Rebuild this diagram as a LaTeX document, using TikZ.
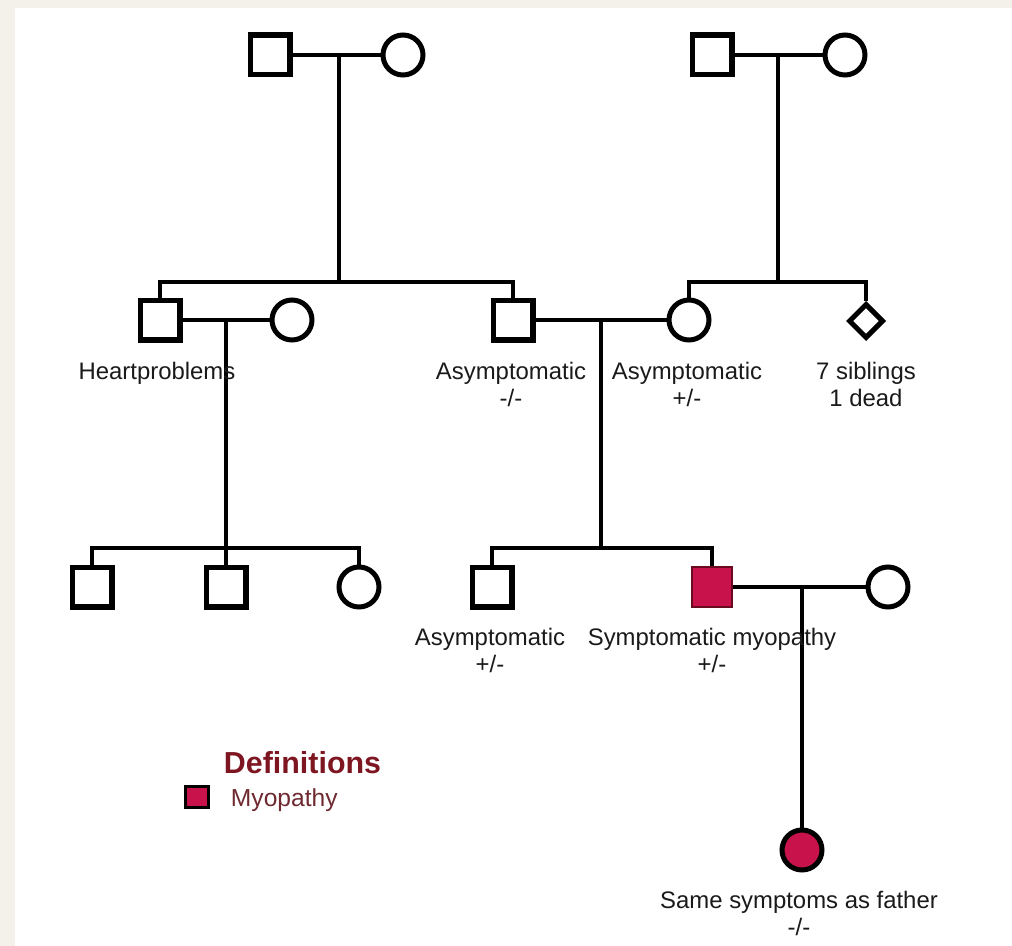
\documentclass[tikz,border=0pt]{standalone}
\usepackage{fontspec}
\setmainfont{Liberation Sans}
\usetikzlibrary{shapes.geometric}
\definecolor{beige}{HTML}{F4F1EA}
\definecolor{affected}{HTML}{C8124B}
\definecolor{affborder}{HTML}{6A0A20}
\definecolor{defred}{HTML}{7E1622}
\definecolor{myored}{HTML}{6E2A30}
\definecolor{ink}{HTML}{1A1A1A}
\begin{document}
\begin{tikzpicture}[x=0.02cm,y=-0.02cm,
  line width=2.27pt,
  male/.style={draw, rectangle, line width=2.85pt, minimum size=0.8cm, inner sep=0pt, fill=white},
  female/.style={draw, circle, line width=2.85pt, minimum size=0.8cm, inner sep=0pt, fill=white},
  unknownsex/.style={draw, diamond, aspect=1, line width=2.85pt, minimum size=0.7cm, inner sep=0pt, fill=white},
  affmale/.style={rectangle, draw=affborder, line width=0.7pt, fill=affected, minimum size=0.8cm, inner sep=0pt},
  afffemale/.style={female, fill=affected},
  lbl/.style={anchor=base, inner sep=0pt, text=ink, font=\fontsize{13.6}{15}\selectfont},
  conn/.style={line width=2.27pt}
]
\useasboundingbox (0,0) rectangle (1012,946);
\fill[beige] (0,0) rectangle (1012,946);
\fill[white] (15,8) rectangle (1012,946);

% junctions
\coordinate (m1) at (339,55);  \coordinate (s1) at (339,282);
\coordinate (m2) at (778,55);  \coordinate (s2) at (778,282);
\coordinate (m3) at (226,320); \coordinate (s3) at (226,548);
\coordinate (m4) at (601,320); \coordinate (s4) at (601,548);
\coordinate (m5) at (802,587);

% generation I
\node[male]   (A1) at (270,55) {};
\node[female] (A2) at (403,55) {};
\node[male]   (A3) at (712,55) {};
\node[female] (A4) at (845,55) {};

% generation II
\node[male]       (B1) at (160,320) {};
\node[female]     (B2) at (292,320) {};
\node[male]       (B3) at (513,320) {};
\node[female]     (B4) at (689,320) {};
\node[unknownsex] (B5) at (866,321) {};

% generation III
\node[male]    (C1) at (92,587) {};
\node[male]    (C2) at (226,587) {};
\node[female]  (C3) at (359,587) {};
\node[male]    (C4) at (492,587) {};
\node[affmale] (C5) at (712,587) {};
\node[female]  (C6) at (888,587) {};

% generation IV
\node[afffemale] (D1) at (802,850) {};

% connectors
\draw[conn] (A1.east) -- (A2.west);
\draw[conn] (m1) -- (s1);
\draw[conn] (B1.north) |- (s1) -| (B3.north);

\draw[conn] (A3.east) -- (A4.west);
\draw[conn] (m2) -- (s2);
\draw[conn] (B4.north) |- (s2) -| (B5.north);

\draw[conn] (B1.east) -- (B2.west);
\draw[conn] (m3) -- (s3);
\draw[conn] (C1.north) |- (s3) -| (C3.north);
\draw[conn] (s3) -- (C2.north);

\draw[conn] (B3.east) -- (B4.west);
\draw[conn] (m4) -- (s4);
\draw[conn] (C4.north) |- (s4) -| (C5.north);

\draw[conn] (C5.east) -- (C6.west);
\draw[conn] (m5) -- (D1.north);

% labels
\node[lbl] (LB1)  at (157,379) {Heartproblems};
\node[lbl] (LB3a) at (511,379) {Asymptomatic};
\node[lbl] (LB3b) at (511,406) {-/-};
\node[lbl] (LB4a) at (687,379) {Asymptomatic};
\node[lbl] (LB4b) at (687,406) {+/-};
\node[lbl] (LB5a) at (866,379) {7 siblings};
\node[lbl] (LB5b) at (866,406) {1 dead};
\node[lbl] (LC4a) at (490,645) {Asymptomatic};
\node[lbl] (LC4b) at (490,672) {+/-};
\node[lbl] (LC5a) at (712,645) {Symptomatic myopathy};
\node[lbl] (LC5b) at (712,672) {+/-};
\node[lbl] (LD1a) at (799,908) {Same symptoms as father};
\node[lbl] (LD1b) at (799,935) {-/-};

% legend
\node[anchor=base west, inner sep=0pt, text=defred, font=\fontsize{17.3}{19}\selectfont\bfseries] (defs) at (222,773) {Definitions};
\node[rectangle, draw=black, line width=1.9pt, fill=affected, minimum width=0.45cm, minimum height=0.43cm, inner sep=0pt] (legsq) at (197,797) {};
\node[anchor=base west, inner sep=0pt, text=myored, font=\fontsize{14}{16}\selectfont] (myo) at (229,806) {Myopathy};
\end{tikzpicture}
\end{document}
